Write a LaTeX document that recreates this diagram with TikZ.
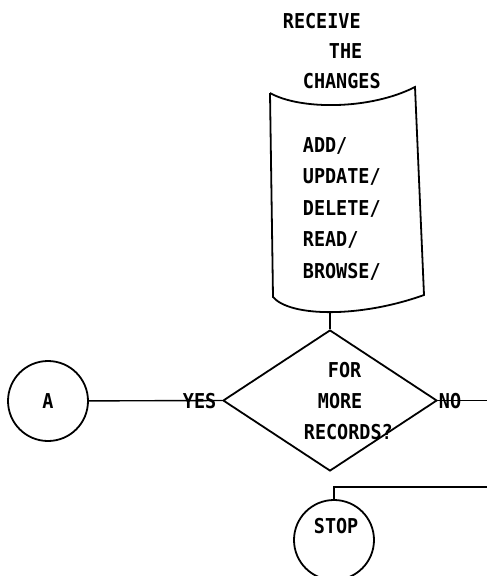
\documentclass[tikz,border=0pt]{standalone}
\usepackage{fontspec}
\usetikzlibrary{shapes.geometric}
\newfontfamily\plotfont[FakeStretch=0.9]{DejaVu Sans Mono}
\begin{document}
\begin{tikzpicture}[x=1pt,y=-1pt,line width=1.8pt,
  txt/.style={font=\plotfont\fontsize{20.5}{24}\selectfont\bfseries,inner sep=0pt,anchor=base west},
  term/.style={circle,draw,minimum size=80pt,inner sep=0pt,font=\plotfont\fontsize{20.5}{24}\selectfont\bfseries},
  decision/.style={diamond,draw,minimum width=214pt,minimum height=141pt,inner sep=0pt},
  flow/.style={line width=1.4pt}]
\useasboundingbox (0,0) rectangle (487,576);

% heading above the input symbol
\node[txt] (h1) at (282,28) {RECEIVE};
\node[txt] (h2) at (328,58) {THE};
\node[txt] (h3) at (302,88) {CHANGES};

% input symbol with curved top and bottom edges
\coordinate (tl) at (270,93);
\coordinate (tr) at (415,87);
\coordinate (bl) at (273,297);
\coordinate (br) at (424,295);
\coordinate (docbot) at (330,312);
\draw (tl) -- (bl) .. controls (290,317) and (360,318) .. (br) -- (tr)
      .. controls (370,110) and (300,110) .. (tl);

\node[txt] (t1) at (302,152) {ADD/};
\node[txt] (t2) at (302,183.5) {UPDATE/};
\node[txt] (t3) at (302,215) {DELETE/};
\node[txt] (t4) at (302,246.5) {READ/};
\node[txt] (t5) at (302,278) {BROWSE/};

% decision
\node[decision] (dec) at (330,400.5) {};
\node[txt] (d1) at (327,377) {FOR};
\node[txt] (d2) at (317,408) {MORE};
\node[txt] (d3) at (303,439) {RECORDS?};

% connectors
\draw[flow] (docbot) -- (dec.north);

\node[term] (a) at (48,401) {A};
\draw[flow] (a) -- (dec.west);
\node[txt] (yes) at (182,408) {YES};

\coordinate (noend) at (487,400.5);
\draw[flow] (dec.east) -- (noend);
\node[txt] (no) at (438,408) {NO};

\node[term] (stop) at (334,540) {};
\node[txt] (stoptxt) at (313,533) {STOP};
\coordinate (loopin) at (487,487);
\draw[flow] (loopin) -| (stop.north);
\end{tikzpicture}
\end{document}
